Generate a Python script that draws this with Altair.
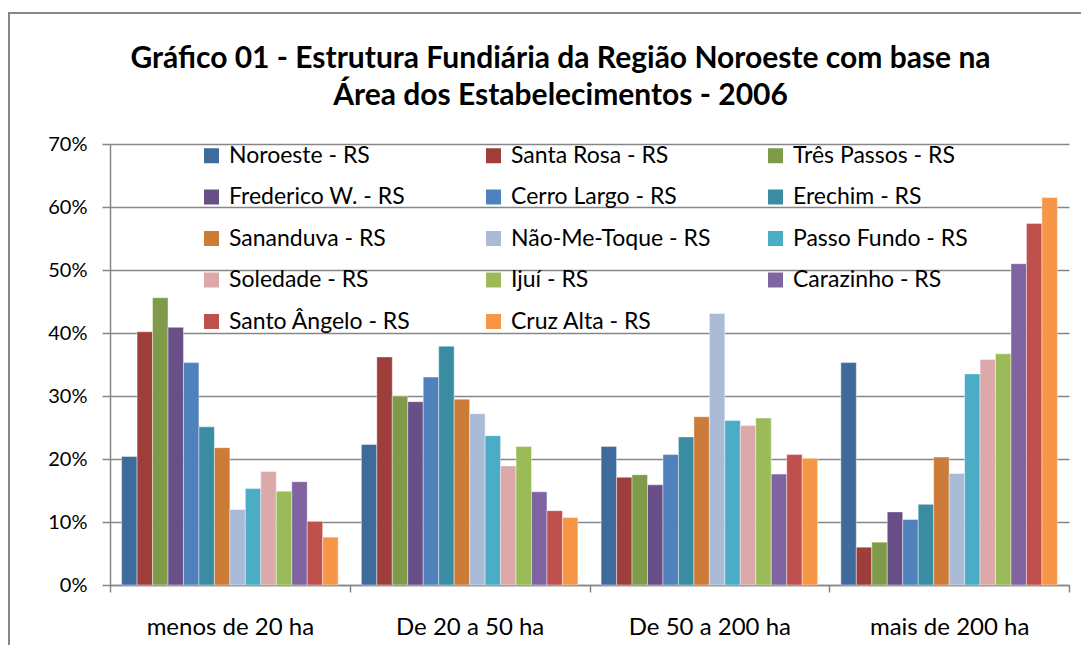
import altair as alt
import pandas as pd

categories = ["menos de 20 ha", "De 20 a 50 ha", "De 50 a  200 ha", "mais de 200 ha"]
series = [
    "Noroeste - RS", "Santa Rosa - RS", "Três Passos - RS",
    "Frederico W. - RS", "Cerro Largo - RS", "Erechim - RS",
    "Sananduva - RS", "Não-Me-Toque - RS", "Passo Fundo - RS",
    "Soledade - RS", "Ijuí - RS", "Carazinho - RS",
    "Santo Ângelo - RS", "Cruz Alta - RS",
]
colors = [
    "#3F6A9C", "#9E3E3B", "#7F9A48", "#684F86", "#4F81BD", "#3A8CA2",
    "#CC7B38", "#AABBD8", "#4BACC6", "#DBA9A9", "#9BBB59", "#8064A2",
    "#C0504D", "#F79646",
]

menos_20 = [0.204, 0.402, 0.456, 0.409, 0.353, 0.251, 0.218, 0.120, 0.153, 0.180, 0.149, 0.164, 0.101, 0.076]
de_20_50 = [0.223, 0.362, 0.300, 0.291, 0.330, 0.379, 0.295, 0.272, 0.237, 0.189, 0.220, 0.148, 0.118, 0.107]
de_50_200 = [0.220, 0.171, 0.175, 0.159, 0.207, 0.235, 0.267, 0.431, 0.261, 0.253, 0.265, 0.176, 0.207, 0.201]
mais_200 = [0.353, 0.060, 0.068, 0.116, 0.104, 0.128, 0.203, 0.177, 0.335, 0.358, 0.367, 0.510, 0.574, 0.615]

rows = []
for cat, vals in zip(categories, [menos_20, de_20_50, de_50_200, mais_200]):
    for s, v in zip(series, vals):
        rows.append({"category": cat, "series": s, "value": v})
df = pd.DataFrame(rows)

FONT = "Lato"
GRAY = "#868686"

bars = alt.Chart(df).mark_bar(stroke="white", strokeWidth=0.6, strokeOpacity=0.7).encode(
    x=alt.X(
        "category:N", sort=categories, title=None,
        scale=alt.Scale(paddingInner=0, paddingOuter=0),
        axis=alt.Axis(
            labelAngle=0, labelFontSize=24, labelFont=FONT, labelColor="#000000",
            tickBand="extent", tickSize=7, tickColor=GRAY, tickWidth=1.5,
            domainColor=GRAY, domainWidth=1.5, labelPadding=23, grid=False,
        ),
    ),
    xOffset=alt.XOffset(
        "series:N", sort=series,
        scale=alt.Scale(paddingInner=0, paddingOuter=0.75),
    ),
    y=alt.Y(
        "value:Q", title=None,
        scale=alt.Scale(domain=[0, 0.7], nice=False),
        axis=alt.Axis(
            values=[0, 0.1, 0.2, 0.3, 0.4, 0.5, 0.6, 0.7], format=".0%",
            labelFontSize=20, labelFont=FONT, labelColor="#000000",
            tickSize=8, tickColor=GRAY, tickWidth=1.5, labelPadding=15,
            domainColor=GRAY, domainWidth=1.5,
            grid=True, gridColor=GRAY, gridWidth=1.5,
        ),
    ),
    color=alt.Color(
        "series:N", sort=series,
        scale=alt.Scale(domain=series, range=colors),
        legend=alt.Legend(
            title=None, orient="none", legendX=90, legendY=0,
            columns=3, direction="horizontal", gridAlign="all",
            columnPadding=53, rowPadding=17.5, padding=0,
            symbolType="square", symbolSize=225, symbolStrokeWidth=0,
            labelFontSize=23, labelFont=FONT, labelColor="#000000",
            labelOffset=6, labelLimit=400,
        ),
    ),
)

border = alt.Chart(alt.Data(values=[{"a": 1}])).mark_rect(
    fillOpacity=0, stroke=GRAY, strokeWidth=2
).encode(
    x=alt.value(-101), y=alt.value(-131), x2=alt.value(1100), y2=alt.value(700)
)

chart = alt.layer(border, bars).properties(
    width=959,
    height=441,
    autosize=alt.AutoSizeParams(type="none"),
    padding={"left": 102, "top": 136, "right": 12, "bottom": 60},
    title=alt.TitleParams(
        text=["Gráfico 01 - Estrutura Fundiária da Região Noroeste com base na",
              "Área dos Estabelecimentos - 2006"],
        font=FONT, fontSize=30, fontWeight="bold", color="#000000",
        anchor="middle", dx=-29, dy=99, offset=0, lineHeight=37,
    ),
).configure_view(strokeWidth=0)

chart.save("out.html", embed_options={"renderer": "svg", "actions": False})
